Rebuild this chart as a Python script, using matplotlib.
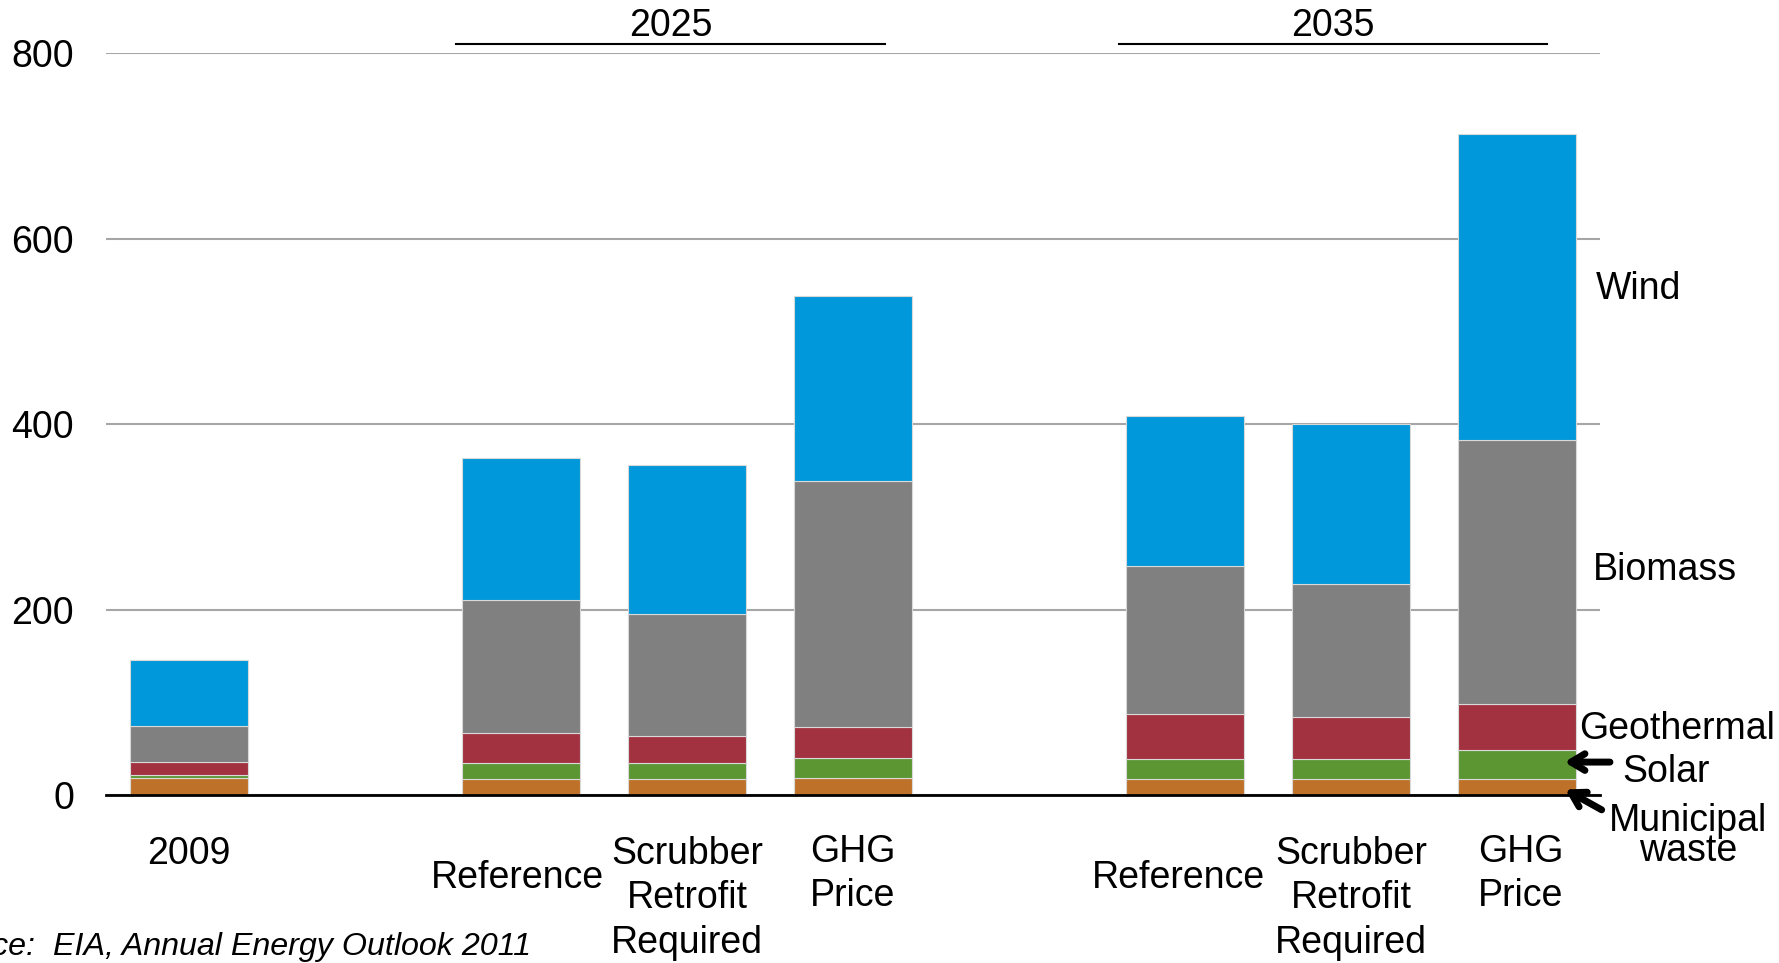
import matplotlib
matplotlib.use("Agg")
import matplotlib.pyplot as plt
import numpy as np

plt.rcParams['font.family'] = ['Liberation Sans', 'DejaVu Sans']

# ---- data ----
categories = ["2009", "Reference", "Scrubber\nRetrofit\nRequired", "GHG\nPrice",
              "Reference", "Scrubber\nRetrofit\nRequired", "GHG\nPrice"]
slots = [0, 2, 3, 4, 6, 7, 8]
municipal_waste = [18.7, 17.3, 17.3, 18.3, 17.3, 17.3, 17.3]
solar = [2.9, 17.5, 17.5, 22.1, 21.2, 21.2, 31.2]
geothermal = [14.3, 32.4, 29.1, 33.0, 48.5, 45.3, 49.6]
biomass = [38.2, 143.2, 131.8, 265.4, 160.0, 143.7, 284.8]
wind = [71.5, 152.9, 160.3, 199.4, 161.6, 172.5, 330.2]
series_names = ["Municipal\nwaste", "Solar", "Geothermal", "Biomass", "Wind"]
series_colors = ["#BE7229", "#5B9632", "#A33241", "#808080", "#0098DA"]
groups = ["2025", "2035"]
yticks = [0, 200, 400, 600, 800]

FS = 27

fig = plt.figure(figsize=(17.79, 9.63), dpi=100)
ax = fig.add_axes([106/1779, 168/963, (1600-106)/1779, (795-53.3)/963])

series = [municipal_waste, solar, geothermal, biomass, wind]
bottom = np.zeros(len(slots))
for vals, col in zip(series, series_colors):
    ax.bar(slots, vals, width=0.71, bottom=bottom, color=col,
           edgecolor="#D9D9D9", linewidth=0.8, zorder=3)
    bottom += np.array(vals)

ax.set_xlim(-0.5, 8.5)
ax.set_ylim(0, 800)
ax.set_yticks(yticks)
ax.set_yticklabels([str(t) for t in yticks], fontsize=FS)
ax.tick_params(axis='y', length=0, pad=23)
ax.set_xticks([])
ax.grid(axis='y', color="#A6A6A6", linewidth=1.5, zorder=0)
for s in ['top', 'right', 'left']:
    ax.spines[s].set_visible(False)
ax.spines['bottom'].set_color('black')
ax.spines['bottom'].set_linewidth(2)
ax.spines['bottom'].set_zorder(4)

# category labels
label_y = [-64, -89.5, -111.5, -85, -89.5, -111.5, -85]
label_dx = [0, -0.02, 0, 0, -0.04, 0, 0.02]
for x, lab, y, dx in zip(slots, categories, label_y, label_dx):
    ax.text(x + dx, y, lab, ha='center', va='center', fontsize=FS,
            linespacing=1.3, clip_on=False)

# group labels
group_spans = [(1.61, 4.19), (5.6, 8.18)]
for g, (x0, x1) in zip(groups, group_spans):
    ax.plot([x0, x1], [810, 810], color='black', lw=1.5, clip_on=False)
    ax.text((x0 + x1) / 2, 829, g, ha='center', va='center', fontsize=FS,
            clip_on=False)

# series labels on right
ax.text(8.476, 545.5, "Wind", ha='left', va='center', fontsize=FS, clip_on=False)
ax.text(8.458, 242.5, "Biomass", ha='left', va='center', fontsize=FS, clip_on=False)
ax.text(8.375, 71, "Geothermal", ha='left', va='center', fontsize=FS, clip_on=False)
ax.text(8.635, 24.5, "Solar", ha='left', va='center', fontsize=FS, clip_on=False)
ax.text(9.03, -44.5, series_names[0], ha='center', va='center', fontsize=FS,
        linespacing=0.8, clip_on=False)

arrow_style = "->,head_length=1.0,head_width=0.6"
ax.annotate("", xy=(8.285, 35.5), xytext=(8.56, 35.5),
            arrowprops=dict(arrowstyle=arrow_style, lw=5, color='black',
                            shrinkA=0, shrinkB=0), annotation_clip=False)
ax.annotate("", xy=(8.29, 6), xytext=(8.51, -16),
            arrowprops=dict(arrowstyle=arrow_style, lw=5, color='black',
                            shrinkA=0, shrinkB=0), annotation_clip=False)

fig.text(531/1779, 1 - 947/963, "Source:  EIA, Annual Energy Outlook 2011",
         ha='right', va='center', fontsize=23.2, style='italic')

fig.savefig("out.png", dpi=100)
